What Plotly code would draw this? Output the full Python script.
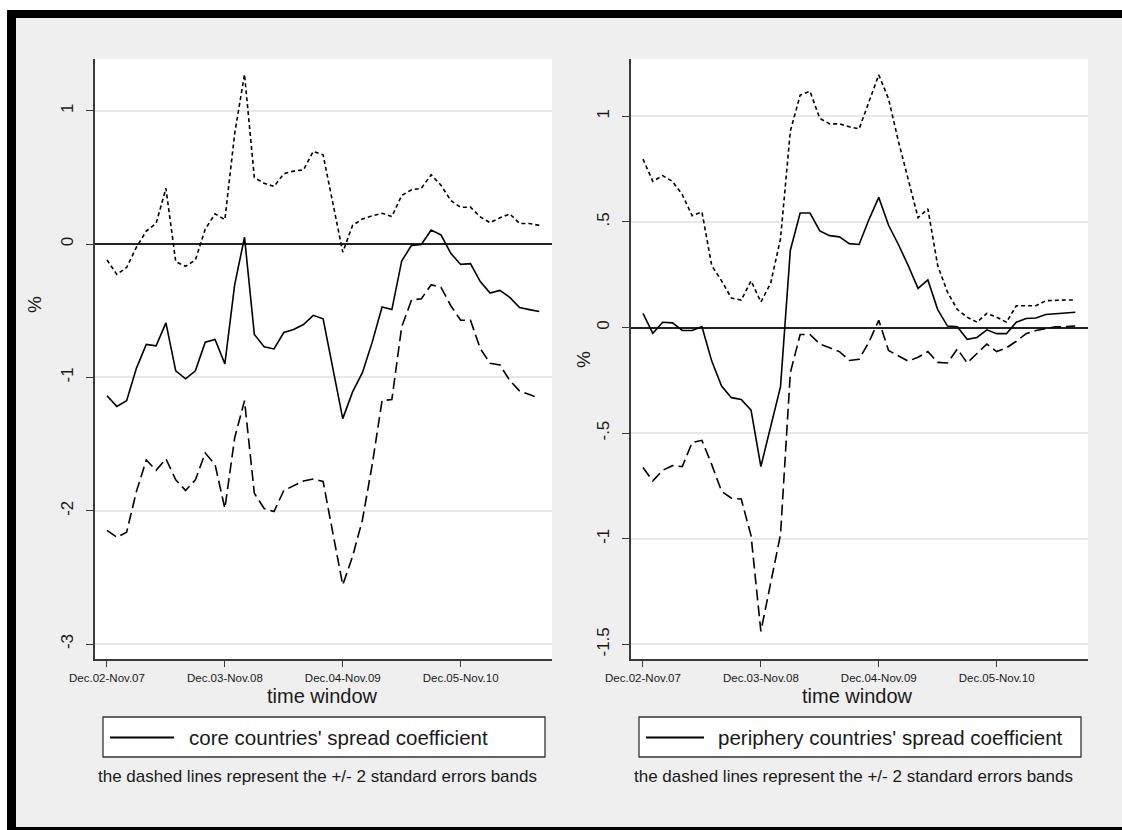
import plotly.graph_objects as go

# ---------------- data ----------------
window_index = list(range(45))
tick_positions = [0, 12, 24, 36]
tick_labels = ["Dec.02-Nov.07", "Dec.03-Nov.08", "Dec.04-Nov.09", "Dec.05-Nov.10"]

core_coef = [-1.137, -1.217, -1.174, -0.93, -0.752, -0.763, -0.591, -0.95, -1.01, -0.95,
             -0.735, -0.715, -0.898, -0.304, 0.052, -0.677, -0.769, -0.786, -0.663, -0.64,
             -0.603, -0.534, -0.56, -0.93, -1.309, -1.108, -0.964, -0.735, -0.471, -0.491,
             -0.126, -0.009, -0.003, 0.106, 0.069, -0.069, -0.152, -0.146, -0.281, -0.367,
             -0.347, -0.399, -0.476, -0.491, -0.505]
core_upper = [-0.118, -0.227, -0.175, -0.023, 0.098, 0.155, 0.419, -0.132, -0.166, -0.118,
              0.112, 0.227, 0.184, 0.83, 1.274, 0.5, 0.456, 0.433, 0.528, 0.548,
              0.557, 0.695, 0.67, 0.3, -0.06, 0.141, 0.189, 0.212, 0.232, 0.207,
              0.365, 0.408, 0.419, 0.52, 0.442, 0.327, 0.276, 0.278, 0.204, 0.161,
              0.198, 0.227, 0.155, 0.155, 0.141]
core_lower = [-2.147, -2.199, -2.161, -1.854, -1.619, -1.697, -1.61, -1.768, -1.848, -1.768,
              -1.567, -1.653, -1.983, -1.452, -1.174, -1.869, -1.983, -2.006, -1.848, -1.811,
              -1.777, -1.762, -1.78, -2.17, -2.557, -2.342, -2.07, -1.653, -1.174, -1.165,
              -0.62, -0.419, -0.41, -0.304, -0.324, -0.462, -0.571, -0.571, -0.784, -0.893,
              -0.907, -1.022, -1.102, -1.128, -1.157]

peri_coef = [0.067, -0.027, 0.025, 0.022, -0.014, -0.014, 0.004, -0.159, -0.277, -0.332,
             -0.341, -0.391, -0.658, -0.47, -0.28, 0.366, 0.542, 0.542, 0.457, 0.435,
             0.429, 0.397, 0.393, 0.511, 0.616, 0.484, 0.393, 0.293, 0.185, 0.225,
             0.085, 0.007, 0.004, -0.056, -0.047, -0.011, -0.029, -0.029, 0.025, 0.043,
             0.045, 0.062, 0.067, 0.069, 0.072]
peri_upper = [0.797, 0.692, 0.719, 0.692, 0.629, 0.529, 0.547, 0.293, 0.221, 0.139,
              0.13, 0.221, 0.121, 0.21, 0.42, 0.93, 1.1, 1.118, 0.99, 0.964,
              0.964, 0.95, 0.94, 1.072, 1.196, 1.082, 0.882, 0.701, 0.52, 0.562,
              0.293, 0.167, 0.085, 0.049, 0.025, 0.067, 0.049, 0.025, 0.103, 0.103,
              0.103, 0.127, 0.13, 0.13, 0.13]
peri_lower = [-0.663, -0.726, -0.676, -0.654, -0.658, -0.545, -0.534, -0.649, -0.775, -0.808,
              -0.812, -0.985, -1.438, -1.2, -0.98, -0.214, -0.033, -0.033, -0.078, -0.096,
              -0.114, -0.156, -0.15, -0.069, 0.034, -0.109, -0.132, -0.159, -0.141, -0.114,
              -0.165, -0.168, -0.101, -0.168, -0.123, -0.078, -0.114, -0.096, -0.065, -0.029,
              -0.014, -0.005, 0.004, 0.004, 0.007]

core_yticks = [-3, -2, -1, 0, 1]
core_yticklabels = ["-3", "-2", "-1", "0", "1"]
peri_yticks = [-1.5, -1, -0.5, 0, 0.5, 1]
peri_yticklabels = ["-1.5", "-1", "-.5", "0", ".5", "1"]

legend_core = "core countries' spread coefficient"
legend_peri = "periphery countries' spread coefficient"
note_text = "the dashed lines represent the +/- 2 standard errors bands"
x_title = "time window"
y_title = "%"

# ---------------- layout helpers ----------------
W, H = 1122, 830
FONT = "Liberation Sans, Arial, sans-serif"
INK = "#1a1a1a"
AX = "#3a3a3a"


def X(px):
    return px / W


def Y(py):
    return 1 - py / H


fig = go.Figure()

panels = [
    ("x", "y", core_coef, core_upper, core_lower),
    ("x2", "y2", peri_coef, peri_upper, peri_lower),
]
for xa, ya, coef, up, lo in panels:
    fig.add_trace(go.Scatter(x=window_index, y=up, mode="lines", xaxis=xa, yaxis=ya,
                             line=dict(color="black", width=1.6, dash="4px,3px"),
                             showlegend=False, hoverinfo="skip"))
    fig.add_trace(go.Scatter(x=window_index, y=lo, mode="lines", xaxis=xa, yaxis=ya,
                             line=dict(color="black", width=1.6, dash="11px,5px"),
                             showlegend=False, hoverinfo="skip"))
    fig.add_trace(go.Scatter(x=window_index, y=coef, mode="lines", xaxis=xa, yaxis=ya,
                             line=dict(color="black", width=1.6),
                             showlegend=False, hoverinfo="skip"))

xcommon = dict(range=[-1.22, 45.3], tickmode="array", tickvals=tick_positions,
               ticktext=tick_labels, ticks="outside", ticklen=6, tickwidth=1.3,
               tickcolor=AX, showline=True, linecolor=AX, linewidth=1.5,
               showgrid=False, zeroline=False, automargin=False,
               tickfont=dict(family=FONT, size=11.5, color=INK), ticklabelstandoff=1)
ycommon = dict(tickmode="array", tickangle=-90, ticks="outside", ticklen=7, tickwidth=1.3,
               tickcolor=AX, showline=True, linecolor=AX, linewidth=1.5,
               showgrid=True, gridcolor="#E8E8E8", gridwidth=1.5, automargin=False,
               zeroline=True, zerolinecolor="#222222", zerolinewidth=1.6,
               tickfont=dict(family=FONT, size=17, color=INK), ticklabelstandoff=6)

ydom = [Y(659), Y(59)]
fig.update_layout(
    width=W, height=H, autosize=False,
    margin=dict(l=0, r=0, t=0, b=0, pad=0, autoexpand=False),
    paper_bgcolor="#EFEFEF", plot_bgcolor="white",
    xaxis=dict(domain=[X(95), X(552)], anchor="y", **xcommon),
    yaxis=dict(domain=ydom, anchor="x", range=[-3.112, 1.389],
               tickvals=core_yticks, ticktext=core_yticklabels, **ycommon),
    xaxis2=dict(domain=[X(631), X(1088)], anchor="y2", **xcommon),
    yaxis2=dict(domain=ydom, anchor="x2", range=[-1.569, 1.271],
                tickvals=peri_yticks, ticktext=peri_yticklabels, **ycommon),
)

shapes = []
# outer frame
shapes.append(dict(type="rect", xref="paper", yref="paper", x0=0, x1=1, y0=Y(10), y1=1,
                   fillcolor="white", line=dict(width=0), layer="below"))
shapes.append(dict(type="rect", xref="paper", yref="paper", x0=0, x1=X(7), y0=0, y1=1,
                   fillcolor="white", line=dict(width=0), layer="below"))
shapes.append(dict(type="rect", xref="paper", yref="paper", x0=X(7), x1=1, y0=Y(18), y1=Y(10),
                   fillcolor="black", line=dict(width=0), layer="below"))
shapes.append(dict(type="rect", xref="paper", yref="paper", x0=X(7), x1=X(16), y0=0, y1=Y(10),
                   fillcolor="black", line=dict(width=0), layer="below"))
shapes.append(dict(type="rect", xref="paper", yref="paper", x0=X(7), x1=1, y0=0, y1=Y(827),
                   fillcolor="black", line=dict(width=0), layer="below"))

annotations = []
legend_specs = [
    (103, 545, 110, 174, 187, legend_core, 317, 322, 34, 305),
    (639, 1081, 646, 704, 716, legend_peri, 853, 857, 583, 360),
]
for bx0, bx1, kx0, kx1, tx, label, notex, titlex, pctx, pcty in legend_specs:
    shapes.append(dict(type="rect", xref="paper", yref="paper", x0=X(bx0), x1=X(bx1),
                       y0=Y(757), y1=Y(717), fillcolor="white",
                       line=dict(color="#333333", width=1.3), layer="above"))
    shapes.append(dict(type="line", xref="paper", yref="paper", x0=X(kx0), x1=X(kx1),
                       y0=Y(737.5), y1=Y(737.5), line=dict(color="black", width=1.8),
                       layer="above"))
    annotations.append(dict(xref="paper", yref="paper", x=X(tx), y=Y(737), text=label,
                            showarrow=False, xanchor="left", yanchor="middle",
                            font=dict(family=FONT, size=20.5, color=INK)))
    annotations.append(dict(xref="paper", yref="paper", x=X(notex), y=Y(776), text=note_text,
                            showarrow=False, xanchor="center", yanchor="middle",
                            font=dict(family=FONT, size=17, color=INK)))
    annotations.append(dict(xref="paper", yref="paper", x=X(titlex), y=Y(696), text=x_title,
                            showarrow=False, xanchor="center", yanchor="middle",
                            font=dict(family=FONT, size=20, color=INK)))
    annotations.append(dict(xref="paper", yref="paper", x=X(pctx), y=Y(pcty), text=y_title,
                            showarrow=False, xanchor="center", yanchor="middle", textangle=-90,
                            font=dict(family=FONT, size=19, color=INK)))

fig.update_layout(shapes=shapes, annotations=annotations)

fig.write_html("out.html", config={"displayModeBar": False},
               post_script="document.body.style.margin='0px';")
